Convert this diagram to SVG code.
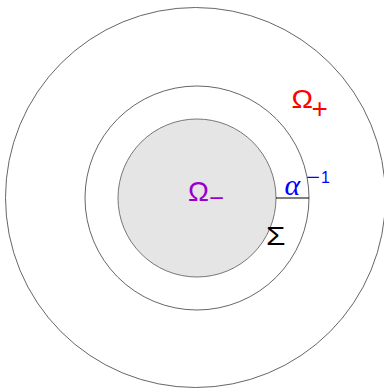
<svg xmlns="http://www.w3.org/2000/svg" width="384" height="388" viewBox="0 0 384 388">
<style>
.c{fill:none;stroke:#666;stroke-width:1}
.s{font-family:"Liberation Sans",Arial,sans-serif}
</style>
<rect width="384" height="388" fill="#fff"/>
<g id="outer"><circle class="c" cx="195.5" cy="197.5" r="190"/></g>
<g id="middle"><circle class="c" cx="197" cy="198" r="112"/></g>
<g id="inner"><circle cx="197" cy="198" r="79" fill="#e5e5e5" stroke="#777" stroke-width="1"/></g>
<g id="connectors"><line x1="276" y1="198" x2="309" y2="198" stroke="#000" stroke-width="1"/></g>
<g id="labels">
<text class="s" x="188" y="200.5" font-size="28" fill="#9900cc">Ω</text>
<text class="s" x="209" y="206" font-size="24" fill="#9900cc" textLength="15" lengthAdjust="spacingAndGlyphs">−</text>
<text class="s" x="291.5" y="107.5" font-size="26" fill="#ff0000" textLength="21.5" lengthAdjust="spacingAndGlyphs">Ω</text>
<text class="s" x="311.5" y="117.5" font-size="28" fill="#ff0000">+</text>
<text x="284.5" y="194.5" font-family="'Liberation Serif','Times New Roman',serif" font-style="italic" font-size="30" fill="#0000ff">α</text>
<text class="s" x="306" y="183.5" font-size="20" fill="#0000ff" textLength="14" lengthAdjust="spacingAndGlyphs">−</text>
<text class="s" x="321" y="183" font-size="16" fill="#0000ff">1</text>
<text class="s" x="266" y="245" font-size="26" fill="#000" textLength="19.5" lengthAdjust="spacingAndGlyphs">Σ</text>
</g>
</svg>
